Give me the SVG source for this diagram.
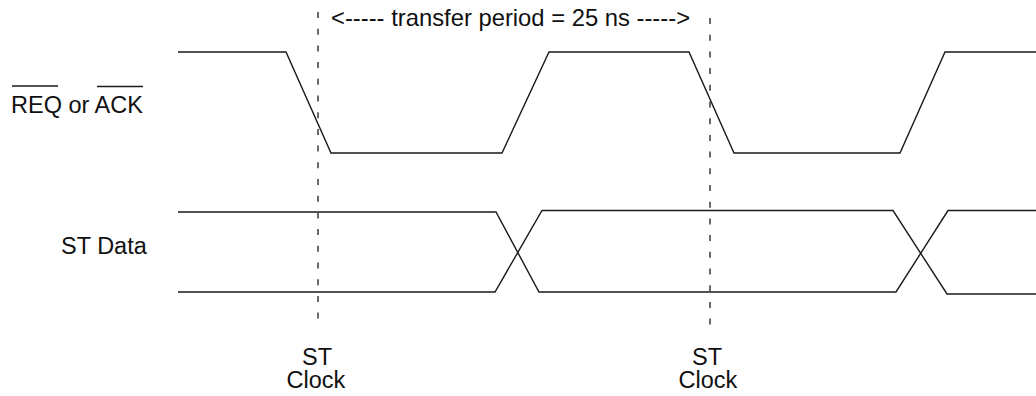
<svg xmlns="http://www.w3.org/2000/svg" width="1036" height="396" viewBox="0 0 1036 396">
<style>
.t{font-family:"Liberation Sans",Arial,sans-serif;font-size:23.5px;fill:#111}
.w{fill:none;stroke:#1a1a1a;stroke-width:1.4;stroke-linejoin:miter}
.d{fill:none;stroke:#1a1a1a;stroke-width:1.3;stroke-dasharray:6 10.7}
.o{stroke:#1a1a1a;stroke-width:1.4}
</style>
<rect width="1036" height="396" fill="#fff"/>
<g id="labels">
<text class="t" x="11" y="113">REQ or ACK</text>
<line class="o" x1="12" y1="86" x2="58" y2="86"/>
<line class="o" x1="97" y1="86.5" x2="143" y2="86.5"/>
<text class="t" x="61" y="254">ST Data</text>
<text class="t" x="331" y="26" style="font-size:23.8px">&lt;----- transfer period = 25 ns -----&gt;</text>
<text class="t" x="317" y="365" text-anchor="middle">ST</text>
<text class="t" x="316" y="388" text-anchor="middle">Clock</text>
<text class="t" x="707" y="365" text-anchor="middle">ST</text>
<text class="t" x="708" y="388" text-anchor="middle">Clock</text>
</g>
<g id="clock-markers">
<line class="d" x1="318" y1="12" x2="318" y2="326"/>
<line class="d" x1="710" y1="18" x2="710" y2="326"/>
</g>
<g id="req-ack">
<path class="w" d="M178,52 H286 L331,153 H502 L549,52 H689 L734,153 H900 L945,52 H1036"/>
</g>
<g id="st-data">
<path class="w" d="M178,212 H496 L539,292 H896 L948,210.5 H1036"/>
<path class="w" d="M178,292 H495 L542,210.5 H893 L947,294 H1036"/>
</g>
</svg>
